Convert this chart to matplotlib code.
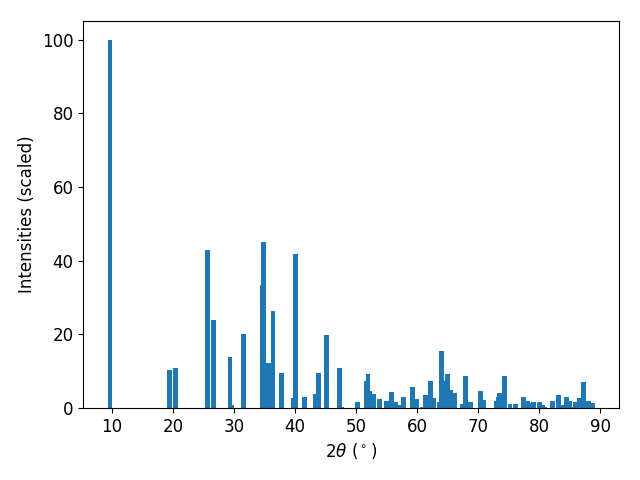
"""
Patron de difraccion (barras) - intensidades escaladas
"""

import matplotlib
matplotlib.use('Agg')
import matplotlib.pyplot as plt

# posiciones 2theta de los picos (grados)
two_theta = [9.7, 19.5, 20.5, 25.7, 26.7, 29.35, 29.6, 31.6, 34.6, 34.9,
             35.6, 36.4, 37.85, 39.8, 40.15, 41.6, 43.4, 43.9, 45.2, 47.35,
             47.6, 50.3, 51.75, 51.95, 52.25, 52.9, 53.9, 55.05, 55.85, 56.45,
             56.9, 57.8, 59.3, 59.85, 60.9, 61.4, 62.25, 62.65, 63.7, 64.05,
             64.3, 65.0, 65.45, 66.1, 67.4, 67.95, 68.7, 70.4, 70.85, 73.05,
             73.35, 73.55, 74.35, 75.2, 76.05, 77.45, 78.1, 78.85, 79.05, 80.1,
             80.5, 80.8, 82.2, 83.2, 83.75, 84.5, 84.9, 85.55, 85.9, 86.55,
             87.3, 88.0, 88.65]

# intensidades relativas (max = 100)
intensity = [100.0, 10.3, 10.9, 42.9, 23.9, 13.9, 0.8, 20.1, 33.4, 45.1,
             12.1, 26.4, 9.5, 2.7, 41.8, 3.0, 3.8, 9.5, 19.8, 10.9,
             0.4, 1.5, 7.3, 9.2, 4.6, 3.8, 2.4, 1.9, 4.3, 1.6,
             0.8, 3.0, 5.6, 2.5, 0.4, 3.6, 7.4, 2.8, 1.5, 15.4,
             7.4, 9.1, 5.0, 4.2, 1.2, 8.8, 1.5, 4.7, 2.3, 2.0,
             3.0, 4.2, 8.8, 1.0, 1.0, 2.9, 1.8, 1.3, 1.5, 1.5,
             0.7, 0.4, 1.8, 3.6, 0.7, 3.0, 1.8, 0.4, 1.6, 2.7,
             7.1, 1.9, 1.4]

plt.rcParams['font.size'] = 12

fig, ax = plt.subplots(figsize=(6.4, 4.8), dpi=100)

ax.bar(two_theta, intensity, width=0.8, color='#1f77b4')
ax.set_xlabel(r'$2\theta$ ($^\circ$)')
ax.set_ylabel('Intensities (scaled)')

# margenes como en la figura original
fig.subplots_adjust(left=0.13, right=0.967, top=0.956, bottom=0.15)
plt.savefig('out.png')
